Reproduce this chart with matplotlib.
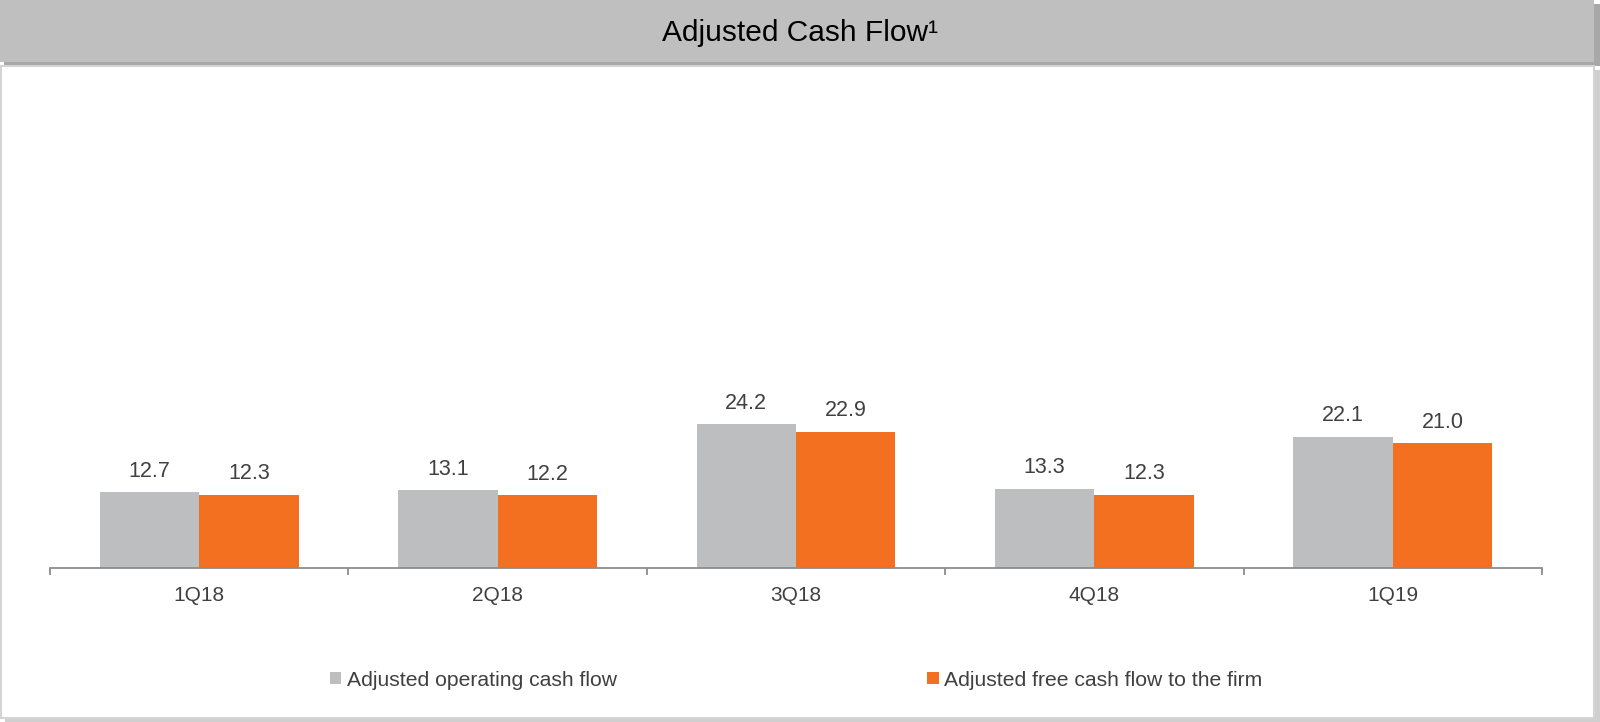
import matplotlib.pyplot as plt
from matplotlib.patches import Rectangle
import numpy as np

plt.rcParams['font.family'] = ['Liberation Sans', 'DejaVu Sans']

quarters = ["1Q18", "2Q18", "3Q18", "4Q18", "1Q19"]
operating_cf = [12.7, 13.1, 24.2, 13.3, 22.1]
free_cf = [12.3, 12.2, 22.9, 12.3, 21.0]
series_names = ["Adjusted operating cash flow", "Adjusted free cash flow to the firm"]

GRAY = '#BDBEC0'
ORANGE = '#F37021'
TEXT = '#404040'

W, H = 1600, 722
fig = plt.figure(figsize=(W / 100, H / 100), dpi=100)
fig.patch.set_facecolor('white')


def px_rect(x0, y0, x1, y1, **kw):
    # rectangle in pixel coords measured from the top-left corner
    r = Rectangle((x0 / W, 1 - y1 / H), (x1 - x0) / W, (y1 - y0) / H,
                  transform=fig.transFigure, zorder=-10, **kw)
    fig.patches.append(r)


# header band with a soft shadow
px_rect(4, 4, 1600, 66, facecolor='#A8A8A8', edgecolor='none')
px_rect(0, 0, 1594, 62, facecolor='#BFBFBF', edgecolor='none')
# white panel with shadow
px_rect(5, 70, 1600, 722, facecolor='#CFCFCF', edgecolor='none')
px_rect(1, 66, 1594, 718, facecolor='white', edgecolor='#D4D4D4', linewidth=1.5)

fig.text(0.5, 1 - 33 / H, "Adjusted Cash Flow\u00b9", ha='center', va='center',
         fontsize=21.5, color='black')

ax = fig.add_axes([50 / W, (H - 568) / H, (1542 - 50) / W, 468 / H])
ax.set_facecolor('none')

x = np.arange(len(quarters))
bw = 1 / 3
b1 = ax.bar(x - bw / 2, operating_cf, bw, color=GRAY, label=series_names[0])
b2 = ax.bar(x + bw / 2, free_cf, bw, color=ORANGE, label=series_names[1])

for bars, vals in ((b1, operating_cf), (b2, free_cf)):
    for rect, v in zip(bars, vals):
        ax.annotate(f"{v:.1f}", (rect.get_x() + rect.get_width() / 2, v),
                    xytext=(0, 7.5), textcoords='offset points',
                    ha='center', va='bottom', fontsize=15.5, color=TEXT)

ax.set_xlim(-0.5, len(quarters) - 0.5)
ax.set_ylim(0, 78.7)
ax.set_yticks([])
for s in ('top', 'right', 'left'):
    ax.spines[s].set_visible(False)
ax.spines['bottom'].set_color('#8C8C8C')
ax.spines['bottom'].set_linewidth(1.3)

ax.set_xticks(x)
ax.set_xticklabels(quarters, fontsize=15, color=TEXT)
ax.tick_params(axis='x', which='major', length=0, pad=13)
ax.set_xticks(np.arange(-0.5, len(quarters)), minor=True)
ax.tick_params(axis='x', which='minor', length=5, width=1.3, color='#8C8C8C')

leg = fig.legend(handles=[b1, b2], loc='center left',
                 bbox_to_anchor=(319 / W, (H - 680) / H), ncol=2, frameon=False,
                 fontsize=15.2, borderpad=0, handlelength=0.56, handleheight=0.56,
                 handletextpad=0.25, columnspacing=14.7)
for t in leg.get_texts():
    t.set_color(TEXT)

fig.savefig('out.png', dpi=100)
